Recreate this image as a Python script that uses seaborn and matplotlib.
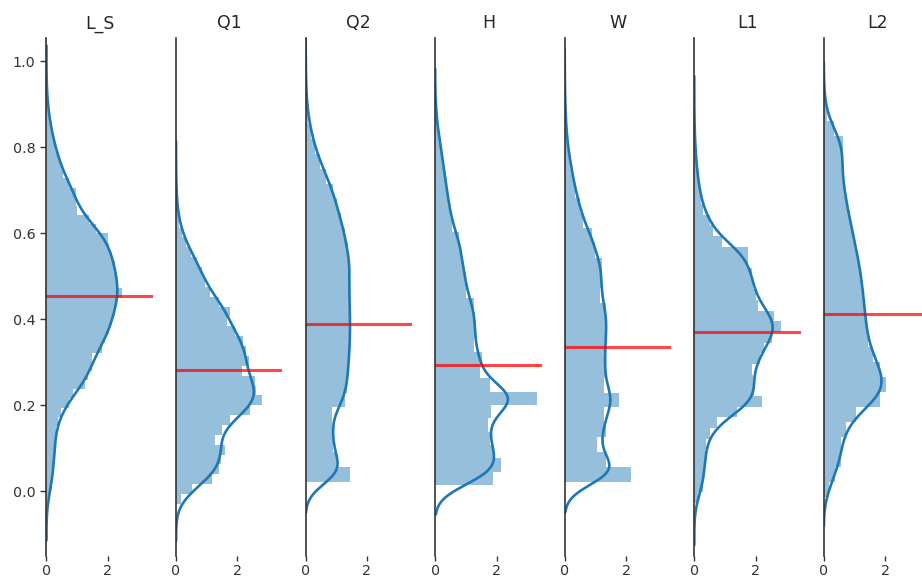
import numpy as np
import pandas as pd
import matplotlib
matplotlib.use("Agg")
import matplotlib.pyplot as plt
import seaborn as sns

# ---------------- data ----------------
columns = ["L_S", "Q1", "Q2", "H", "W", "L1", "L2"]

# lower edge of the first histogram bin and bin width, per column
hist_start = [-0.0191, -0.030, 0.021, 0.014, 0.021, -0.027, -0.013]
hist_width = [0.02132, 0.02295, 0.0347, 0.031, 0.0347, 0.0248, 0.0349]

# histogram densities, bottom bin first
ls_density = [0.10, 0.17, 0.20, 0.23, 0.25, 0.27, 0.28, 0.30, 0.38, 0.47,
              0.72, 0.85, 1.26, 1.36, 1.50, 1.48, 1.80, 1.92, 2.05, 2.15,
              2.22, 2.26, 2.45, 2.30, 2.27, 2.22, 2.15, 2.05, 1.99, 1.62,
              1.38, 1.00, 0.97, 0.95, 0.72, 0.55, 0.47, 0.37, 0.28, 0.21,
              0.15, 0.10, 0.06, 0.03, 0.01]
q1_density = [0.15, 0.52, 1.17, 1.41, 1.45, 1.61, 1.28, 1.50, 1.77, 2.40,
              2.80, 2.60, 2.57, 2.15, 2.37, 2.28, 2.17, 1.93, 1.66, 1.77,
              1.39, 1.10, 0.96, 0.85, 0.68, 0.50, 0.33, 0.20, 0.11, 0.06,
              0.03, 0.015, 0.01]
q2_density = [1.46, 0.99, 0.90, 0.87, 0.85, 1.30, 1.34, 1.39, 1.42, 1.45,
              1.45, 1.45, 1.42, 1.42, 1.46, 1.37, 1.28, 1.17, 1.01, 0.90,
              0.68, 0.47, 0.30, 0.18, 0.09, 0.04, 0.015, 0.01, 0.005]
h_density = [1.88, 2.13, 1.90, 1.78, 1.73, 1.83, 3.33, 1.79, 1.45, 1.52,
             1.25, 1.32, 1.30, 1.25, 1.00, 1.00, 0.90, 0.85, 0.79, 0.55,
             0.50, 0.42, 0.36, 0.30, 0.24, 0.17, 0.10, 0.05, 0.02]
w_density = [2.17, 1.35, 1.05, 1.33, 1.27, 1.76, 1.27, 1.33, 1.30, 1.33,
             1.38, 1.36, 1.16, 1.22, 1.20, 1.00, 0.89, 0.60, 0.50, 0.35,
             0.27, 0.18, 0.10, 0.06, 0.03, 0.015, 0.008]
l1_density = [0.12, 0.29, 0.32, 0.35, 0.36, 0.38, 0.51, 0.73, 1.38, 2.20,
              1.96, 1.92, 1.87, 2.14, 2.28, 2.52, 2.84, 2.60, 2.09, 2.00,
              1.92, 1.87, 1.74, 1.74, 0.90, 0.62, 0.50, 0.30, 0.22, 0.16,
              0.12, 0.08, 0.05, 0.03, 0.015, 0.01]
l2_density = [0.18, 0.35, 0.57, 0.57, 0.73, 1.05, 1.82, 2.03, 1.84, 1.60,
              1.43, 1.38, 1.33, 1.29, 1.22, 1.16, 1.05, 0.95, 0.84, 0.75,
              0.67, 0.59, 0.62, 0.62, 0.33, 0.10, 0.03]

densities = [ls_density, q1_density, q2_density, h_density,
             w_density, l1_density, l2_density]

# column means (red lines)
means = [0.453, 0.281, 0.389, 0.293, 0.334, 0.371, 0.411]

# ---------------- styling ----------------
sns.set_theme(style="white")
plt.rcParams.update({
    "font.family": ["DejaVu Sans"],
    "axes.edgecolor": "#333333",
    "axes.linewidth": 1.2,
    "xtick.major.size": 3.5,
    "ytick.major.size": 4.5,
    "xtick.major.width": 1.0,
    "ytick.major.width": 1.0,
    "xtick.color": "#333333",
    "ytick.color": "#333333",
    "text.color": "#262626",
})

blue = "#1f77b4"
kde_sigma = 0.032

fig, axes = plt.subplots(1, len(columns), sharey=True, figsize=(9.22, 5.81), dpi=100)
fig.subplots_adjust(left=0.0504, right=1.009, top=0.9346, bottom=0.043, wspace=0.217)

for i, (ax, name) in enumerate(zip(axes, columns)):
    dens = np.asarray(densities[i], dtype=float)
    edges = hist_start[i] + hist_width[i] * np.arange(len(dens) + 1)
    centers = edges[:-1] + hist_width[i] / 2
    df = pd.DataFrame({"value": centers, "density": dens})

    std_w = float(np.sqrt(np.cov(centers, aweights=dens)))
    sns.histplot(data=df, y="value", weights="density", bins=edges.tolist(),
                 stat="count", color=blue, alpha=0.47, linewidth=0,
                 kde=True,
                 kde_kws={"bw_method": kde_sigma / std_w, "cut": 2},
                 line_kws={"linewidth": 1.9},
                 ax=ax)

    ax.axhline(means[i], color="red", alpha=0.72, linewidth=2.2)

    ax.set_title(name, fontsize=12.5, pad=7)
    ax.set_xlabel("")
    ax.set_ylabel("")
    ax.set_xlim(0, 3.47)
    ax.set_xticks([0, 2])
    ax.tick_params(axis="x", bottom=True, labelsize=10.3, pad=2)
    ax.tick_params(axis="y", left=(i == 0), labelsize=10.3)
    sns.despine(ax=ax, bottom=True)

axes[0].set_ylim(-0.151, 1.0535)
axes[0].set_yticks([0.0, 0.2, 0.4, 0.6, 0.8, 1.0])

fig.savefig("out.png", dpi=100)
